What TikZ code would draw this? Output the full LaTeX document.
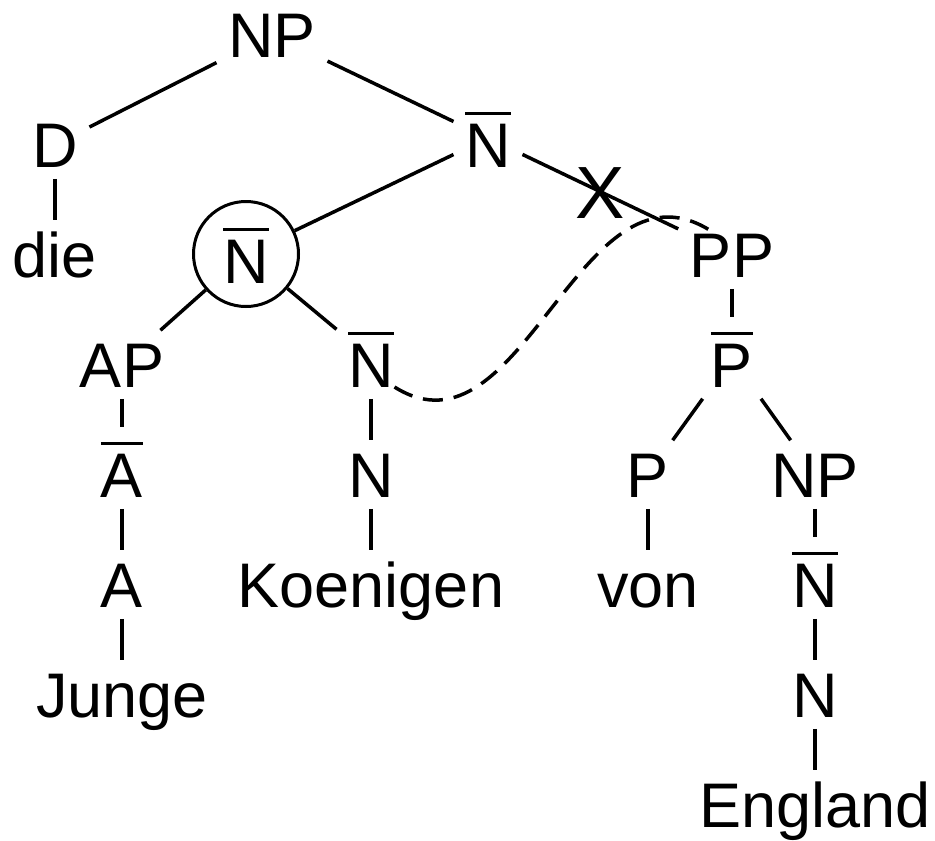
\documentclass[tikz,border=0pt]{standalone}
\usepackage{fontspec}
\setmainfont{Liberation Sans}
\newcommand\OverBar[1]{\sbox0{#1}\rlap{\rule[52pt]{\wd0}{3.5pt}}\usebox0}

\begin{document}
\begin{tikzpicture}[x=1pt,y=-1pt,line width=3.5pt,
    cat/.style={font=\fontsize{63}{70}\selectfont,inner sep=10pt,text height=45pt,text depth=0pt,anchor=base},
    barcat/.style={cat,text height=58pt},
    head/.style={barcat,anchor=center,circle,draw,line width=3pt,inner sep=0pt,minimum size=105pt},
    cross/.style={font=\fontsize{74}{80}\selectfont,inner sep=0pt,text height=53pt,text depth=0pt}]
    \useasboundingbox (0,0) rectangle (935,841);
    \node[cat] (np) at (272,57) {NP};
    \node[cat] (d) at (55,167) {D};
    \node[barcat] (nbar) at (488,167) {\OverBar{N}};
    \node[cat] (die) at (55,277) {die};
    \node[head] (nbarc) at (246,254) {\OverBar{N}};
    \node[cat] (pp) at (732,277) {PP};
    \node[cat] (ap) at (122,387) {AP};
    \node[barcat] (nbarb) at (371,387) {\OverBar{N}};
    \node[barcat] (pbar) at (732,387) {\OverBar{P}};
    \node[barcat] (abar) at (122,497) {\OverBar{A}};
    \node[cat] (n) at (371,497) {N};
    \node[cat] (p) at (648,497) {P};
    \node[cat] (npb) at (815,497) {NP};
    \node[cat] (a) at (122,607) {A};
    \node[cat] (koenigen) at (371,607) {Koenigen};
    \node[cat] (von) at (648,607) {von};
    \node[barcat] (nbarr) at (815,607) {\OverBar{N}};
    \node[cat] (junge) at (122,717) {Junge};
    \node[cat] (nr) at (815,717) {N};
    \node[cat] (england) at (815,827) {England};

    \draw (np) -- (d);
    \draw (np) -- (nbar);
    \draw (d) -- (die);
    \draw (nbar) -- (nbarc);
    \draw (nbar) -- node[cross] {X} (pp);
    \draw (nbarc) -- (ap);
    \draw (nbarc) -- (nbarb);
    \draw (pp) -- (pbar);
    \draw (ap) -- (abar);
    \draw (abar) -- (a);
    \draw (a) -- (junge);
    \draw (nbarb) -- (n);
    \draw (n) -- (koenigen);
    \draw (pbar) -- (p);
    \draw (pbar) -- (npb);
    \draw (p) -- (von);
    \draw (npb) -- (nbarr);
    \draw (nbarr) -- (nr);
    \draw (nr) -- (england);
    \draw[dash pattern=on 20pt off 11pt] ([xshift=-11pt]nbarb.base east)
        .. controls +(127,80) and +(-129,-77) .. ([xshift=30pt,yshift=-9pt]pp.north west);
\end{tikzpicture}
\end{document}
